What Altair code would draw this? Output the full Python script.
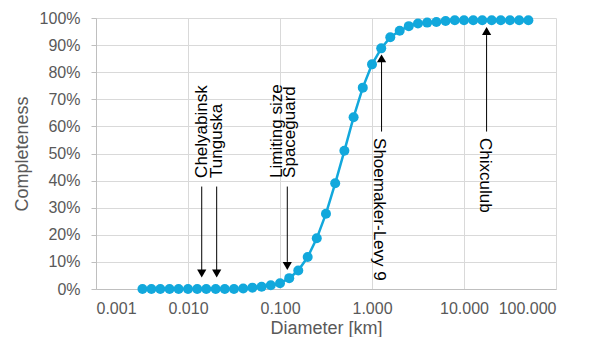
import altair as alt
import pandas as pd

# Data
diameter_km = [0.0032, 0.004, 0.005, 0.0063, 0.0079, 0.01, 0.0126, 0.0158, 0.02, 0.0251,
               0.0316, 0.0398, 0.0501, 0.0631, 0.0794, 0.1, 0.126, 0.158, 0.2, 0.251,
               0.316, 0.398, 0.501, 0.631, 0.794, 1.0, 1.26, 1.58, 2.0, 2.51,
               3.16, 3.98, 5.01, 6.31, 7.94, 10.0, 12.6, 15.8, 20.0, 25.1,
               31.6, 39.8, 50.1]
completeness = [0.0, 0.0, 0.0, 0.0, 0.0, 0.0, 0.0, 0.0, 0.0, 0.0,
                0.0, 0.002, 0.005, 0.008, 0.014, 0.021, 0.040, 0.068, 0.118, 0.187,
                0.278, 0.390, 0.510, 0.634, 0.743, 0.829, 0.888, 0.929, 0.953, 0.970,
                0.980, 0.983, 0.985, 0.989, 0.992, 0.992, 0.992, 0.992, 0.992, 0.992,
                0.992, 0.992, 0.992]

# Annotation arrows
arrow_x = [0.0141, 0.0205, 0.12, 1.27, 17.6]
arrow_from = [0.378, 0.378, 0.378, 0.581, 0.581]
arrow_to = [0.07, 0.07, 0.10, 0.838, 0.937]
head_y = [0.057, 0.057, 0.085, 0.851, 0.952]
head_shape = ["triangle-down", "triangle-down", "triangle-down", "triangle-up", "triangle-up"]

# Annotation labels
up_labels = ["Chelyabinsk", "Tunguska", "Limiting size", "Spaceguard"]
up_x = [0.0141, 0.0205, 0.092, 0.1285]
up_y = [0.41, 0.41, 0.41, 0.41]
down_labels = ["Shoemaker-Levy 9", "Chixculub"]
down_x = [1.19, 16.9]
down_y = [0.557, 0.557]

x_ticks = [0.001, 0.01, 0.1, 1, 10, 100]
y_ticks = [0, 0.1, 0.2, 0.3, 0.4, 0.5, 0.6, 0.7, 0.8, 0.9, 1.0]

blue = "#12a8dc"
font = "Liberation Sans"

df = pd.DataFrame({"d": diameter_km, "c": completeness})
arrows = pd.DataFrame({"x": arrow_x, "y1": arrow_from, "y2": arrow_to,
                       "hy": head_y, "shape": head_shape})
ups = pd.DataFrame({"x": up_x, "y": up_y, "t": up_labels})
downs = pd.DataFrame({"x": down_x, "y": down_y, "t": down_labels})

xscale = alt.Scale(type="log", domain=[0.001, 100])
yscale = alt.Scale(domain=[0, 1])

xaxis = alt.Axis(values=x_ticks, format=".3f", title="Diameter [km]",
                 grid=True, ticks=False, labelPadding=11,
                 titleY=48, titleBaseline="bottom", titleFontSize=18,
                 labelFontSize=16)
yaxis = alt.Axis(values=y_ticks, format=".0%", title="Completeness",
                 grid=True, tickSize=5, labelPadding=11, titlePadding=8,
                 titleFontSize=18, labelFontSize=16)


def X(field):
    return alt.X(field, scale=xscale, axis=xaxis, title="Diameter [km]")


def Y(field):
    return alt.Y(field, scale=yscale, axis=yaxis, title="Completeness")


line = alt.Chart(df).mark_line(color=blue, strokeWidth=2.5).encode(x=X("d:Q"), y=Y("c:Q"))
pts = alt.Chart(df).mark_circle(color=blue, size=100, opacity=1).encode(x=X("d:Q"), y=Y("c:Q"))

rules = alt.Chart(arrows).mark_rule(color="black", strokeWidth=1).encode(
    x=X("x:Q"), y=Y("y1:Q"), y2="y2:Q")
heads = alt.Chart(arrows).mark_point(filled=True, color="black", size=85, opacity=1).encode(
    x=X("x:Q"), y=Y("hy:Q"),
    shape=alt.Shape("shape:N", scale=None))

up_text = alt.Chart(ups).mark_text(angle=270, align="left", baseline="middle",
                                   font=font, fontSize=17, color="black").encode(
    x=X("x:Q"), y=Y("y:Q"), text="t:N")
down_text = alt.Chart(downs).mark_text(angle=90, align="left", baseline="middle",
                                       font=font, fontSize=17, color="black").encode(
    x=X("x:Q"), y=Y("y:Q"), text="t:N")

chart = alt.layer(line, pts, rules, heads, up_text, down_text).properties(
    width=460, height=271,
    autosize=alt.AutoSizeParams(type="none"),
    padding={"left": 88, "top": 10, "right": 30, "bottom": 48},
).configure_view(stroke=None).configure_axis(
    labelFont=font, titleFont=font,
    labelColor="#595959", titleColor="#595959", titleFontWeight="normal",
    gridColor="#d9d9d9", domainColor="#bfbfbf", tickColor="#bfbfbf",
)

chart.save("out.html", embed_options={"renderer": "svg", "actions": False})
